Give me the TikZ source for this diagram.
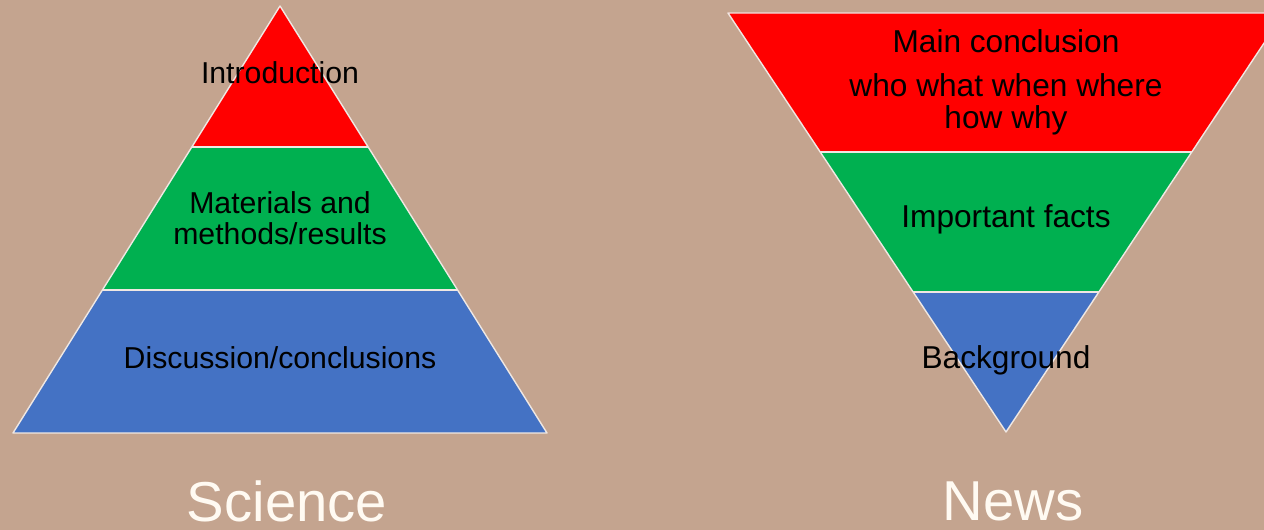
\documentclass[tikz,border=0pt]{standalone}
\usepackage{fontspec}
\setmainfont{Liberation Sans}
\usetikzlibrary{positioning}
\definecolor{bgtan}{RGB}{196,164,143}
\definecolor{bandred}{RGB}{255,0,0}
\definecolor{bandgreen}{RGB}{0,176,80}
\definecolor{bandblue}{RGB}{68,114,196}
\definecolor{capcream}{RGB}{255,250,242}

\begin{document}
\begin{tikzpicture}[x=0.025cm,y=-0.025cm,
    every node/.style={align=center,inner sep=0pt},
    sciencetext/.style={font=\fontsize{21.5}{22.2}\selectfont},
    newstext/.style={font=\fontsize{22.5}{23}\selectfont},
    edge/.style={draw=white!75!bgtan,line width=1pt,line join=round},
    caption/.style={font=\fontsize{40}{42}\selectfont,text=capcream}]
    % page
    \fill[bgtan] (0,0) rectangle (1264,530);
    \clip (0,0) rectangle (1264,530);
    % science pyramid
    \coordinate (sA) at (280,6);
    \coordinate (sL) at (13,433);
    \coordinate (sR) at (547,433);
    \fill[bandred] (sA) -- (368,147) -- (192,147) -- cycle;
    \fill[bandgreen] (192,147) -- (368,147) -- (458,290) -- (102,290) -- cycle;
    \fill[bandblue] (102,290) -- (458,290) -- (sR) -- (sL) -- cycle;
    \draw[edge] (sA) -- (sR) -- (sL) -- cycle;
    \draw[edge] (192,147) -- (368,147) (102,290) -- (458,290);
    \node[sciencetext] (intro) at (280,73) {Introduction};
    \node[sciencetext] (methods) at (280,218) {Materials and\\methods/results};
    \node[sciencetext] (discuss) at (280,358) {Discussion/conclusions};
    % news pyramid (upside down)
    \coordinate (nA) at (1006,432);
    \coordinate (nL) at (728,13);
    \coordinate (nR) at (1284,13);
    \fill[bandred] (nL) -- (nR) -- (1192,152) -- (820,152) -- cycle;
    \fill[bandgreen] (820,152) -- (1192,152) -- (1099,292) -- (913,292) -- cycle;
    \fill[bandblue] (913,292) -- (1099,292) -- (nA) -- cycle;
    \draw[edge] (nL) -- (nR) -- (nA) -- cycle;
    \draw[edge] (820,152) -- (1192,152) (913,292) -- (1099,292);
    \node[newstext] (main) at (1006,41) {Main conclusion};
    \node[newstext] (wh) at (1006,104) {who what when where\\how why};
    \node[newstext] (facts) at (1006,219) {Important facts};
    \node[newstext] (back) at (1006,360) {Background};
    % captions
    \node[caption] (sci) at (287,501) {Science};
    \node[caption] (news) at (1013,501) {News};
\end{tikzpicture}
\end{document}
